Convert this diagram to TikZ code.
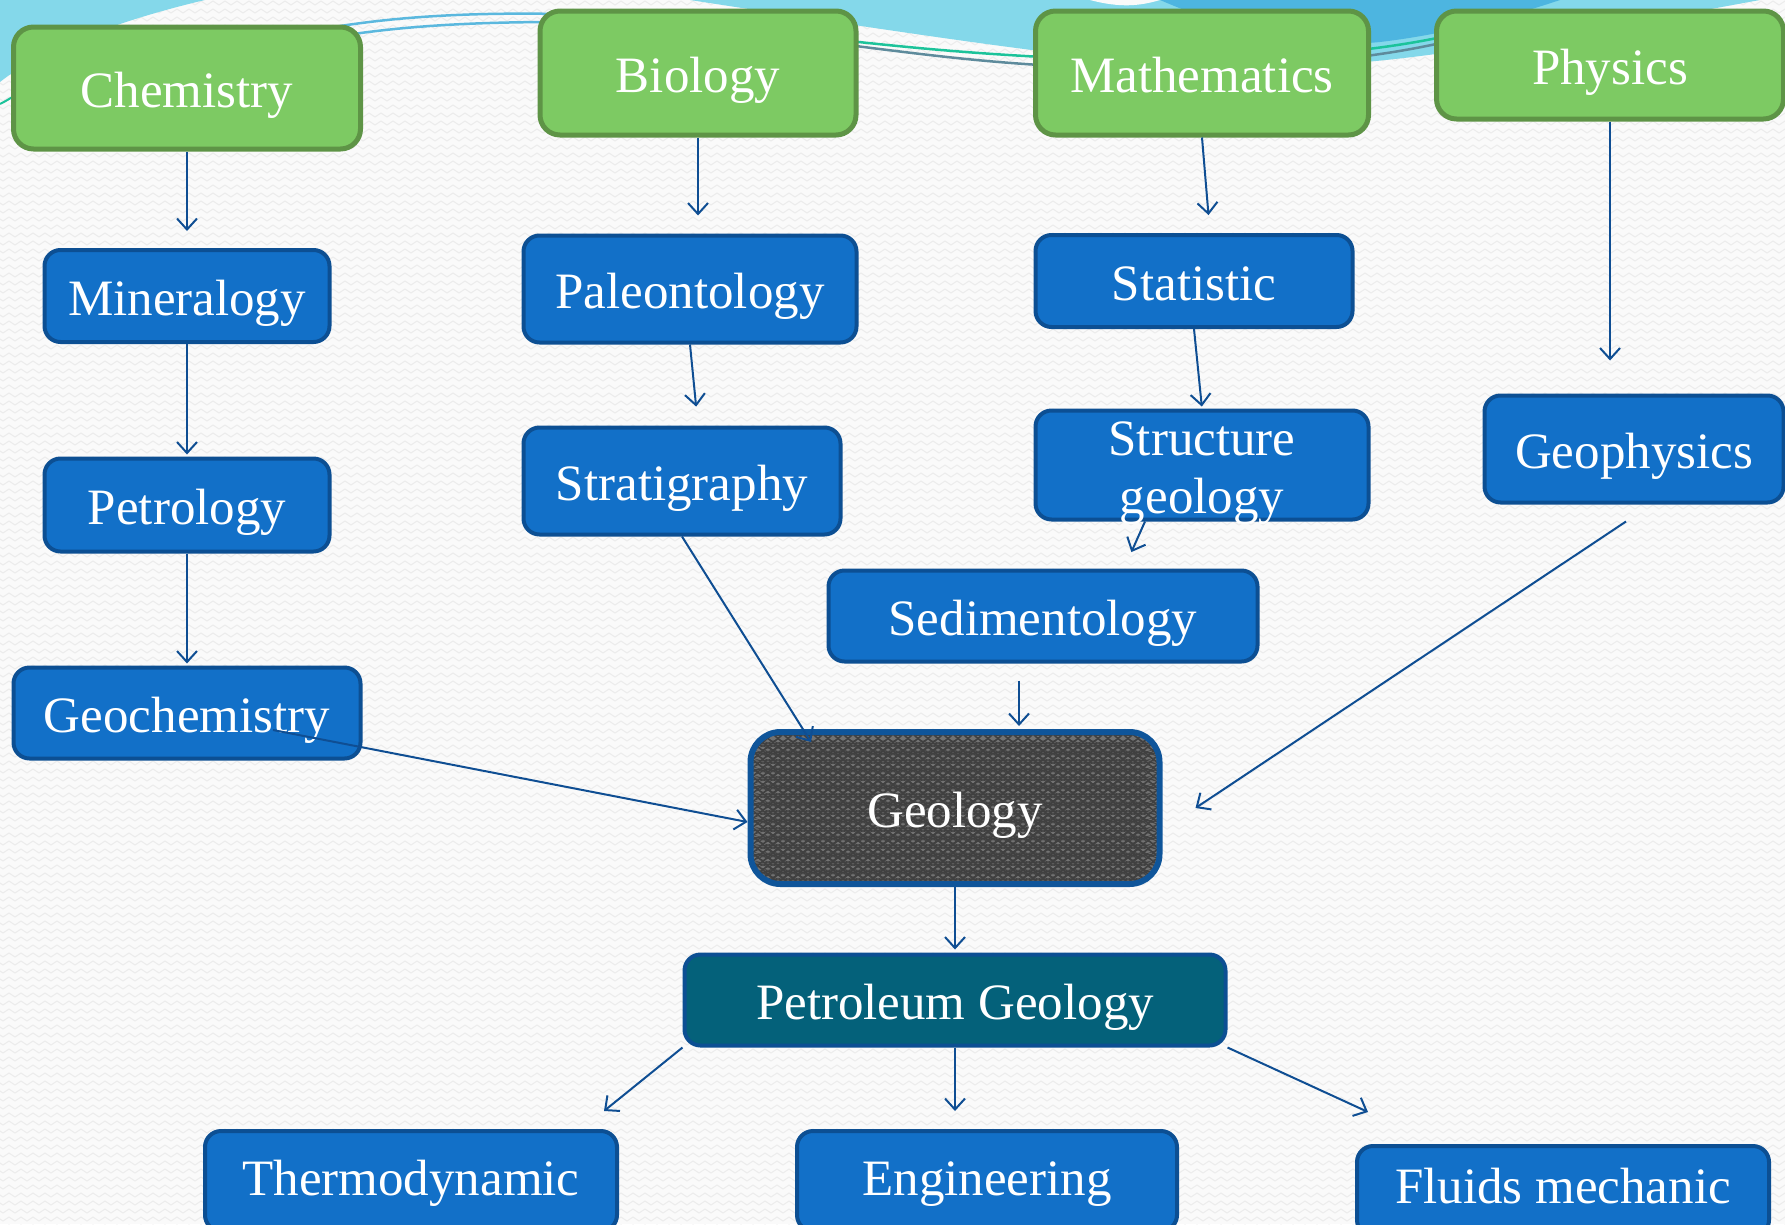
\documentclass[tikz,border=0pt]{standalone}
\usepackage{fontspec}
\setmainfont{Liberation Serif}
\usetikzlibrary{arrows.meta,decorations.pathmorphing}
\definecolor{gfill}{HTML}{7DCA63}
\definecolor{gdraw}{HTML}{5E9446}
\definecolor{bfill}{HTML}{1270C8}
\definecolor{bdraw}{HTML}{0C4F93}
\definecolor{tfill}{HTML}{04617A}
\definecolor{geofill}{HTML}{727272}
\definecolor{geodraw}{HTML}{0F559A}
\definecolor{arrc}{HTML}{0F4E93}
\definecolor{bgc}{HTML}{FAFAFA}
\definecolor{bgzig}{HTML}{ECECEC}
\definecolor{cyanA}{HTML}{84D8EA}
\definecolor{cyanB}{HTML}{4DB5E0}
\definecolor{tealA}{HTML}{1CC39A}
\definecolor{grayblue}{HTML}{5E8B9C}
\definecolor{thinblue}{HTML}{5BB8DE}
\tikzset{
  basebox/.style={rounded corners=16pt, text=white, inner sep=0pt, align=center,
    font=\fontsize{51}{58}\selectfont, text height=38pt, text depth=0pt},
  gbox/.style={basebox, fill=gfill, draw=gdraw, line width=5pt, rounded corners=20pt},
  bbox/.style={basebox, fill=bfill, draw=bdraw, line width=4pt},
  tbox/.style={basebox, fill=tfill, draw=bdraw, line width=4pt},
  geobox/.style={basebox, fill=geofill, draw=geodraw, line width=6pt, rounded corners=30pt},
  zig/.style={draw=black!75, line width=0.6pt, decorate,
    decoration={zigzag, segment length=10pt, amplitude=2pt}},
  bgzigs/.style={draw=bgzig, line width=1pt, decorate,
    decoration={zigzag, segment length=12pt, amplitude=2pt}},
  arr/.style={draw=arrc, line width=2pt, -{Straight Barb[length=11pt,width=20pt]}},
}
\begin{document}
\begin{tikzpicture}[x=1pt,y=-1pt]
\useasboundingbox (0,0) rectangle (1785,1224);
\clip (0,0) rectangle (1785,1224);
\fill[bgc] (0,0) rectangle (1785,1224);
\foreach \r in {0,...,153}
  \draw[bgzigs] (-6,{\r*8+3}) -- (1791,{\r*8+3});
% decorative top swooshes
\fill[cyanA] (0,0) -- (205,0) .. controls (120,20) and (40,50) .. (0,82) -- cycle;
\draw[tealA, line width=2pt] (0,104) .. controls (8,100) and (14,96) .. (20,92);
\fill[cyanA] (690,0) -- (1760,0) .. controls (1650,20) and (1550,40) .. (1450,52)
  .. controls (1380,62) and (1300,70) .. (1200,66) .. controls (1100,62) and (950,40) .. (690,0) -- cycle;
\fill[cyanB] (1160,0) -- (1560,0) .. controls (1500,20) and (1440,35) .. (1380,42)
  .. controls (1300,50) and (1230,30) .. (1160,0) -- cycle;
\fill[bgc] (1090,0) -- (1160,0) .. controls (1140,6) and (1120,8) .. (1090,0) -- cycle;
\draw[thinblue, line width=2.5pt] (250,45) .. controls (350,18) and (450,12) .. (560,14);
\draw[thinblue, line width=2.5pt] (250,55) .. controls (350,28) and (450,22) .. (560,22);
\draw[tealA, line width=2.5pt] (840,40) .. controls (950,52) and (1000,55) .. (1100,60)
  .. controls (1250,62) and (1380,55) .. (1480,28);
\draw[grayblue, line width=2.5pt] (840,44) .. controls (950,58) and (1000,64) .. (1100,68)
  .. controls (1250,70) and (1380,62) .. (1480,33);

% nodes
\node[gbox, minimum width=347pt, minimum height=122pt] (chem) at (187,88) {Chemistry};
\node[gbox, minimum width=316pt, minimum height=124pt] (bio) at (698,73) {Biology};
\node[gbox, minimum width=333pt, minimum height=124pt] (math) at (1202,73) {Mathematics};
\node[gbox, minimum width=347pt, minimum height=108pt] (phys) at (1610,65) {Physics};

\node[bbox, minimum width=285pt, minimum height=92pt] (miner) at (187,296) {Mineralogy};
\node[bbox, minimum width=333pt, minimum height=107pt] (paleo) at (690,289) {Paleontology};
\node[bbox, minimum width=317pt, minimum height=92pt] (stat) at (1194,281) {Statistic};
\node[bbox, minimum width=333pt, minimum height=109pt, text height=96pt] (struct) at (1202,465) {Structure\\geology};
\node[bbox, minimum width=299pt, minimum height=107pt] (geophys) at (1634,449) {Geophysics};

\node[bbox, minimum width=285pt, minimum height=93pt] (petro) at (187,505) {Petrology};
\node[bbox, minimum width=317pt, minimum height=107pt] (strat) at (682,481) {Stratigraphy};
\node[bbox, minimum width=429pt, minimum height=91pt] (sedi) at (1043,616) {Sedimentology};
\node[bbox, minimum width=347pt, minimum height=91pt] (geochem) at (187,713) {Geochemistry};

\node[geobox, minimum width=409pt, minimum height=152pt,
  path picture={
    \foreach \k in {0,...,18}
      \draw[zig] ([yshift={-(\k*8.5+4)*1pt}]path picture bounding box.north west)
        -- ([yshift={-(\k*8.5+4)*1pt}]path picture bounding box.north east);
  }] (geo) at (955,808) {};
\node[text=white, inner sep=0pt, font=\fontsize{51}{58}\selectfont, text height=38pt, text depth=0pt] (geotext) at (geo.center) {Geology};

\node[tbox, minimum width=541pt, minimum height=91pt] (petgeo) at (955,1000) {Petroleum Geology};

\node[bbox, minimum width=412pt, minimum height=100pt, text height=28pt] (thermo) at (411,1181) {Thermodynamic};
\node[bbox, minimum width=380pt, minimum height=100pt, text height=28pt] (eng) at (987,1181) {Engineering};
\node[bbox, minimum width=412pt, minimum height=90pt, text height=24pt] (fluids) at (1563,1191) {Fluids mechanic};

% connectors
\draw[arr, shorten >=17pt] (chem.south) -- (miner.north);
\draw[arr, shorten >=2pt] (miner.south) -- (petro.north);
\draw[arr, shorten >=2pt] (petro.south) -- (geochem.north);
\draw[arr, shorten >=18pt] (bio.south) -- (bio.south |- paleo.north);
\draw[arr, shorten >=19pt] (paleo.south) -- ([xshift=16pt]strat.north);
\draw[arr, shorten >=18pt] (math.south) -- ([xshift=16pt]stat.north);
\draw[arr, shorten >=2pt] (stat.south) -- (struct.north);
\draw[arr, shorten >=18pt] ([xshift=-57pt]struct.south) -- ([xshift=81pt]sedi.north);
\draw[arr, shorten <=17pt, shorten >=3pt] ([xshift=-24pt]sedi.south) -- ([xshift=-24pt]sedi.south |- geo.north);
\draw[arr] (strat.south) -- ([xshift=-144pt,yshift=-13pt]geo.north);
\draw[arr] ([xshift=86pt,yshift=-17pt]geochem.center) -- ([yshift=-14pt]geo.west);
\draw[arr] ([xshift=-8pt,yshift=-17pt]geophys.south) -- ([xshift=33pt]geo.east);
\draw[arr, shorten >=33pt] (phys.south) -- (phys.south |- geophys.north);
\draw[arr, shorten >=3pt] (geo.south) -- (petgeo.north);
\draw[arr] (petgeo.south west) -- ([xshift=-15pt,yshift=18pt]thermo.north east);
\draw[arr, shorten >=18pt] (petgeo.south) -- (petgeo.south |- eng.north);
\draw[arr] (petgeo.south east) -- ([xshift=13pt,yshift=32pt]fluids.north west);
\end{tikzpicture}
\end{document}
